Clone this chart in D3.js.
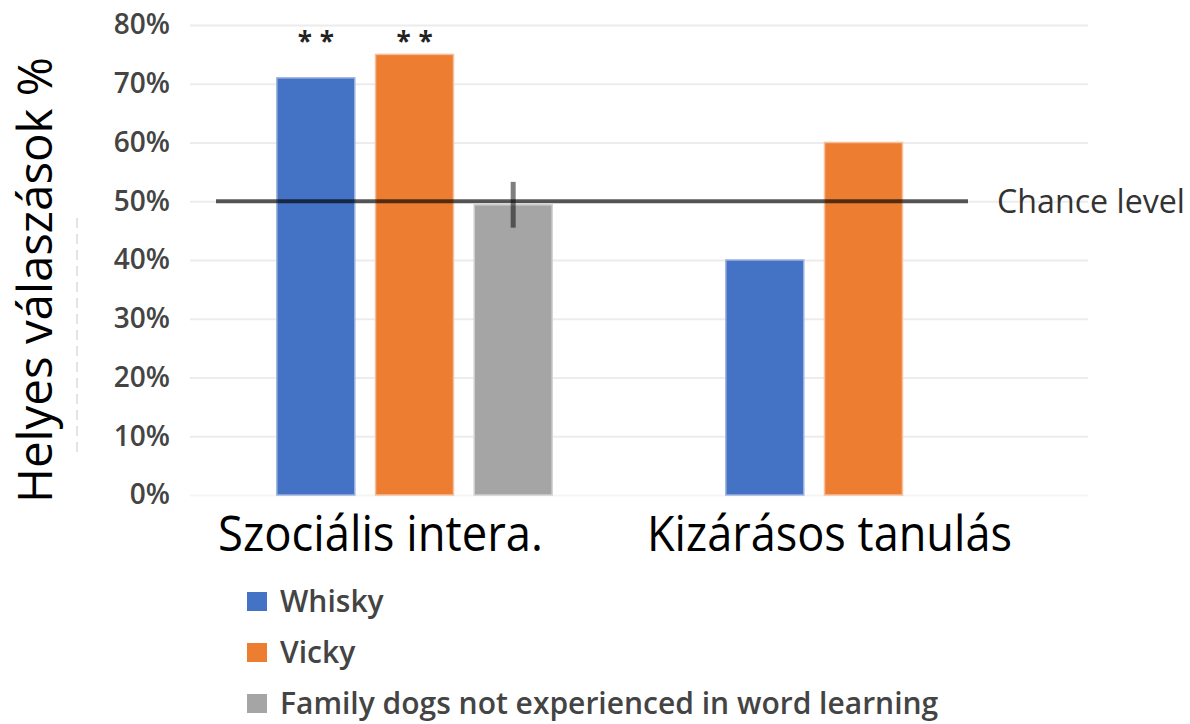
<!DOCTYPE html>
<html>
<head>
<meta charset="utf-8">
<script src="https://cdn.jsdelivr.net/npm/d3@7"></script>
<style>
  body { margin: 0; background: #fff; }
  svg { display: block; font-family: "Open Sans", sans-serif; }
</style>
</head>
<body>
<div id="chart"></div>
<script>
// data
const categories = ["Szociális intera.", "Kizárásos tanulás"];
const series = ["Whisky", "Vicky", "Family dogs not experienced in word learning"];
const whisky = [71, 40];
const vicky = [75, 60];
const familyDogs = [49.4, null];
const familyDogsErr = [3.9, null];
const stars = [["**", "**", ""], ["", "", ""]];
const yTicks = [0, 10, 20, 30, 40, 50, 60, 70, 80];
const chanceLevel = 50;

const colors = ["#4472C4", "#ED7D31", "#A5A5A5"];
const edgeColors = ["#9db3df", "#f6bf9c", "#d0d0d0"];

const width = 1190, height = 724;
const plot = { left: 190, right: 1088, top: 25, bottom: 495 };

const svg = d3.select("#chart")
  .append("svg")
  .attr("width", width)
  .attr("height", height);

svg.append("rect").attr("width", width).attr("height", height).attr("fill", "#fff");

const x0 = d3.scaleBand()
  .domain(categories)
  .range([plot.left, plot.right]);

const x1 = d3.scaleBand()
  .domain(series)
  .range([0, x0.bandwidth()])
  .paddingInner(0.21)
  .paddingOuter(0.88);

const y = d3.scaleLinear()
  .domain([0, 80])
  .range([plot.bottom, plot.top]);

// faint dashed artefact left of the axis
svg.append("line")
  .attr("x1", 77).attr("x2", 77)
  .attr("y1", 218).attr("y2", 455)
  .attr("stroke", "#dcdcdc")
  .attr("stroke-width", 1.5)
  .attr("stroke-dasharray", "10,6");

// grid lines
svg.append("g")
  .attr("class", "grid")
  .attr("transform", `translate(${plot.left},0)`)
  .call(d3.axisLeft(y).tickValues(yTicks).tickSize(-(plot.right - plot.left)).tickFormat(""))
  .call(g => g.select(".domain").remove())
  .call(g => g.selectAll(".tick line")
    .attr("stroke", d => d === 0 ? "#f5f5f5" : "#ececec")
    .attr("stroke-width", 2));

// y tick labels
svg.append("g")
  .attr("transform", "translate(170,0)")
  .call(d3.axisLeft(y).tickValues(yTicks).tickSize(0).tickFormat(d => d + "%"))
  .call(g => g.select(".domain").remove())
  .call(g => g.selectAll(".tick text")
    .attr("x", 0)
    .attr("font-family", "Open Sans, sans-serif")
    .attr("font-size", 28)
    .attr("font-weight", 600)
    .attr("fill", "#444"));

// bars
const rows = categories.map((c, i) => ({
  cat: c,
  vals: [whisky[i], vicky[i], familyDogs[i]],
  errs: [null, null, familyDogsErr[i]],
  stars: stars[i]
}));

const groups = svg.selectAll(".cat")
  .data(rows)
  .enter()
  .append("g")
  .attr("class", "cat")
  .attr("transform", d => `translate(${x0(d.cat)},0)`);

const cells = groups.selectAll(".cell")
  .data(d => d.vals.map((v, j) => ({ s: series[j], j, v, err: d.errs[j], star: d.stars[j] })))
  .enter()
  .filter(d => d.v !== null);

cells.append("rect")
  .attr("x", d => x1(d.s))
  .attr("y", d => y(d.v))
  .attr("width", x1.bandwidth())
  .attr("height", d => y(0) - y(d.v))
  .attr("fill", d => colors[d.j])
  .attr("stroke", d => edgeColors[d.j])
  .attr("stroke-width", 1.5);

// chance level line
svg.append("line")
  .attr("x1", 216)
  .attr("x2", 968)
  .attr("y1", y(chanceLevel))
  .attr("y2", y(chanceLevel))
  .attr("stroke", "rgba(0,0,0,0.65)")
  .attr("stroke-width", 4);

// error bars
cells.filter(d => d.err !== null)
  .append("line")
  .attr("x1", d => x1(d.s) + x1.bandwidth() / 2)
  .attr("x2", d => x1(d.s) + x1.bandwidth() / 2)
  .attr("y1", d => y(d.v + d.err))
  .attr("y2", d => y(d.v - d.err))
  .attr("stroke", "rgba(0,0,0,0.5)")
  .attr("stroke-width", 5);

// significance stars
cells.filter(d => d.star)
  .each(function(d) {
    const cx = x1(d.s) + x1.bandwidth() / 2;
    const g = d3.select(this);
    d.star.split("").forEach((s, k, arr) => {
      g.append("text")
        .attr("x", cx + (k - (arr.length - 1) / 2) * 22)
        .attr("y", y(80) + 26)
        .attr("text-anchor", "middle")
        .attr("font-size", 26)
        .attr("font-weight", 700)
        .attr("fill", "#222")
        .text(s);
    });
  });

svg.append("text")
  .attr("x", 997)
  .attr("y", 213)
  .attr("font-size", 32)
  .attr("fill", "#333")
  .attr("textLength", 188)
  .attr("lengthAdjust", "spacingAndGlyphs")
  .text("Chance level");

// category labels
svg.selectAll(".catlabel")
  .data(categories)
  .enter()
  .append("text")
  .attr("class", "catlabel")
  .attr("x", d => x0(d) + x0.bandwidth() / 2 - 34)
  .attr("y", 551)
  .attr("text-anchor", "middle")
  .attr("font-size", 50)
  .attr("fill", "#000")
  .attr("textLength", (d, i) => i === 0 ? 325 : 365)
  .attr("lengthAdjust", "spacingAndGlyphs")
  .text(d => d);

// y axis title
svg.append("text")
  .attr("transform", "translate(52,280) rotate(-90)")
  .attr("text-anchor", "middle")
  .attr("font-size", 48)
  .attr("fill", "#000")
  .attr("textLength", 446)
  .attr("lengthAdjust", "spacingAndGlyphs")
  .text("Helyes válaszások %");

// legend
const legend = svg.selectAll(".legend")
  .data(series)
  .enter()
  .append("g")
  .attr("class", "legend")
  .attr("transform", (d, i) => `translate(247,${592 + i * 51})`);

legend.append("rect")
  .attr("width", 20)
  .attr("height", 19)
  .attr("fill", (d, i) => colors[i]);

legend.append("text")
  .attr("x", 33)
  .attr("y", 20)
  .attr("font-size", 30)
  .attr("font-weight", 600)
  .attr("fill", "#444")
  .text(d => d);
</script>
</body>
</html>
